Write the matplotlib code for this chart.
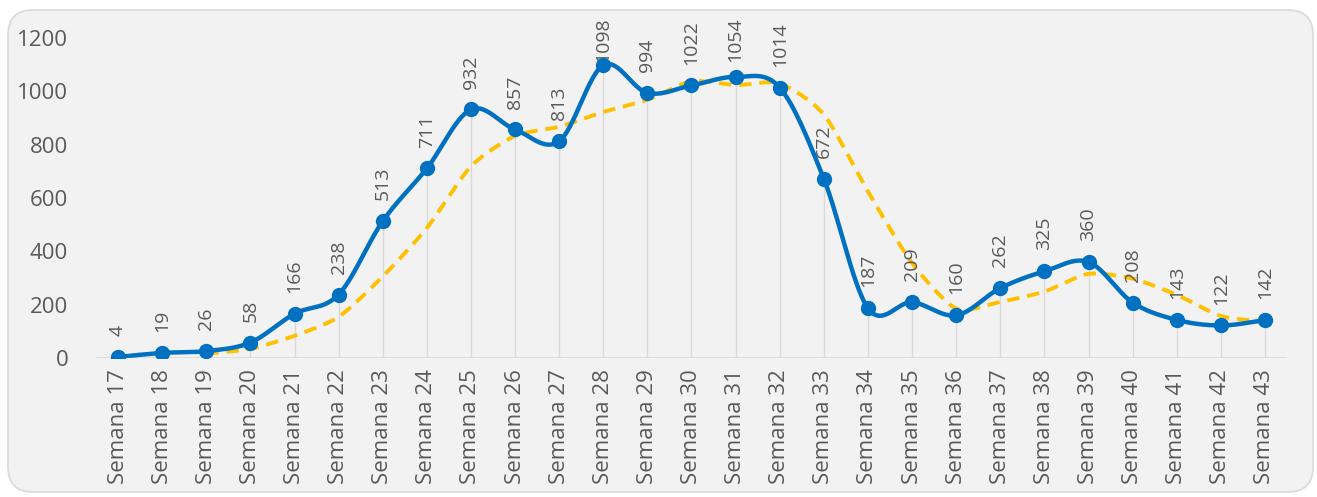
import numpy as np
import matplotlib
matplotlib.use('Agg')
import matplotlib.pyplot as plt
from matplotlib.patches import FancyBboxPatch
import matplotlib.transforms as mtransforms

plt.rcParams['font.family'] = ['Open Sans', 'DejaVu Sans']

# --------------- 数据 ---------------
semanas = [f'Semana {s}' for s in range(17, 44)]
casos = [4, 19, 26, 58, 166, 238, 513, 711, 932, 857, 813, 1098, 994, 1022,
         1054, 1014, 672, 187, 209, 160, 262, 325, 360, 208, 143, 122, 142]
# media móvil (3 períodos), empieza en Semana 19
media_movil = [16.3, 34.3, 83.3, 154.0, 305.7, 487.3, 718.7, 833.3, 867.3,
               922.7, 968.3, 1038.0, 1023.3, 1030.0, 913.3, 624.3, 356.0,
               185.3, 210.3, 249.0, 315.7, 297.7, 237.0, 157.7, 135.7]

AZUL = '#0070C0'
AMARILLO = '#FFC000'
GRIS_TXT = '#595959'
GRIS_LIN = '#d9d9d9'


def suavizar(x, y, n=30, tension=0.5):
    """Curva tipo Excel (Catmull-Rom) solo para el trazo"""
    x = np.asarray(x, float)
    y = np.asarray(y, float)
    px = np.concatenate([[2 * x[0] - x[1]], x, [2 * x[-1] - x[-2]]])
    py = np.concatenate([[2 * y[0] - y[1]], y, [2 * y[-1] - y[-2]]])
    xs, ys = [], []
    for i in range(1, len(px) - 2):
        t = np.linspace(0, 1, n, endpoint=False)
        m1x = tension * (px[i + 1] - px[i - 1])
        m2x = tension * (px[i + 2] - px[i])
        m1y = tension * (py[i + 1] - py[i - 1])
        m2y = tension * (py[i + 2] - py[i])
        h00 = 2 * t**3 - 3 * t**2 + 1
        h10 = t**3 - 2 * t**2 + t
        h01 = -2 * t**3 + 3 * t**2
        h11 = t**3 - t**2
        xs.append(h00 * px[i] + h10 * m1x + h01 * px[i + 1] + h11 * m2x)
        ys.append(h00 * py[i] + h10 * m1y + h01 * py[i + 1] + h11 * m2y)
    xs.append([x[-1]])
    ys.append([y[-1]])
    return np.concatenate(xs), np.concatenate(ys)


W, H = 1317, 497
fig = plt.figure(figsize=(W / 100, H / 100), dpi=100, facecolor='white')

# marco redondeado gris
caja = FancyBboxPatch((8 / 100, 5 / 100), (1313 - 8) / 100, (492 - 10) / 100,
                      boxstyle='round,pad=0,rounding_size=0.25',
                      transform=fig.dpi_scale_trans, facecolor='#f2f2f2',
                      edgecolor=GRIS_LIN, linewidth=1.2, zorder=-5)
fig.patches.append(caja)

ax = fig.add_axes([96 / W, (H - 358) / H, (1287 - 96) / W, (358 - 38) / H])
ax.set_facecolor('none')

x = np.arange(len(casos))
x_mm = x[2:]

# líneas de caída
ax.vlines(x, 0, casos, color=GRIS_LIN, linewidth=1, zorder=1)
ax.axhline(0, color=GRIS_LIN, linewidth=1.2, zorder=1)

sx, sy = suavizar(x, casos)
ax.plot(sx, sy, color=AZUL, linewidth=3.2, zorder=3, solid_capstyle='round')
ax.plot(x, casos, 'o', color=AZUL, markersize=10, zorder=4)

mx, my = suavizar(x_mm, media_movil, tension=0.35)
ax.plot(mx, my, color=AMARILLO, linewidth=2.8, linestyle=(0, (3.2, 2)), zorder=2)

# etiquetas de datos
tr_top = mtransforms.blended_transform_factory(ax.transData, ax.transAxes)
for xi, v in zip(x, casos):
    if v > 1040:
        ax.text(xi, 1.066, f'{v}', rotation=90, ha='center', va='top',
                fontsize=14, color=GRIS_TXT, transform=tr_top, clip_on=False)
    else:
        ax.annotate(f'{v}', (xi, v), xytext=(0, 15), textcoords='offset points',
                    rotation=90, ha='center', va='bottom', fontsize=14,
                    color=GRIS_TXT, annotation_clip=False)

ax.set_xlim(-0.5, len(casos) - 0.5)
ax.set_ylim(0, 1200)
ax.set_yticks(range(0, 1201, 200))
ax.set_xticks(x)
ax.set_xticklabels(semanas, rotation=90)
ax.tick_params(axis='both', length=0, labelsize=16, colors=GRIS_TXT)
ax.tick_params(axis='y', pad=20)
ax.tick_params(axis='x', pad=8)
for s in ax.spines.values():
    s.set_visible(False)

plt.savefig('out.png', dpi=100)
